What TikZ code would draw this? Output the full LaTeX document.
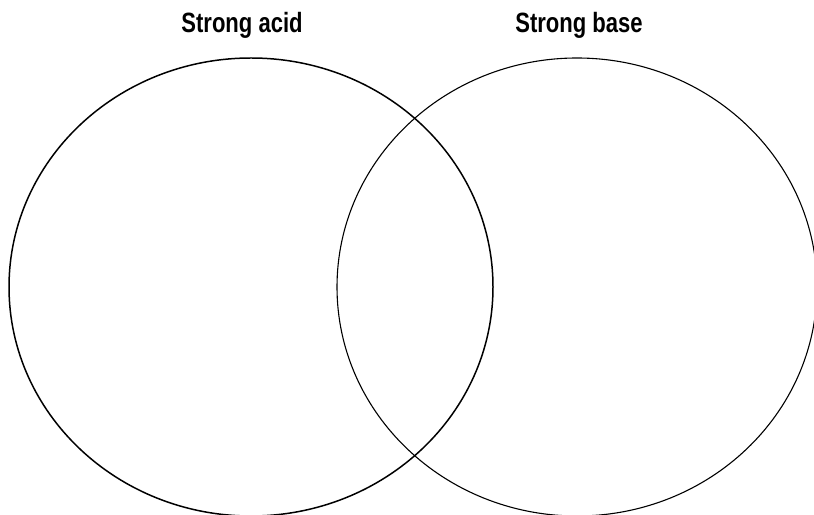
\documentclass[tikz,border=0pt]{standalone}
\usepackage{fontspec}
\setmainfont{Liberation Sans}[FakeStretch=0.79]
\usepackage{tikz}

\tikzset{title/.style={font=\fontsize{28}{30}\selectfont\bfseries, anchor=base, inner sep=0pt}}

\begin{document}
\begin{tikzpicture}[x=1bp,y=-1bp]
\useasboundingbox (0,0) rectangle (814,515);
\clip (0,0) rectangle (814,515);

\draw[line width=1.5pt] (251,287) ellipse (242 and 229);
\draw[line width=1.1pt] (577,287) ellipse (240 and 229);

\node[title] (acid) at (242,33) {Strong acid};
\node[title] (base) at (579,33) {Strong base};

\end{tikzpicture}
\end{document}
